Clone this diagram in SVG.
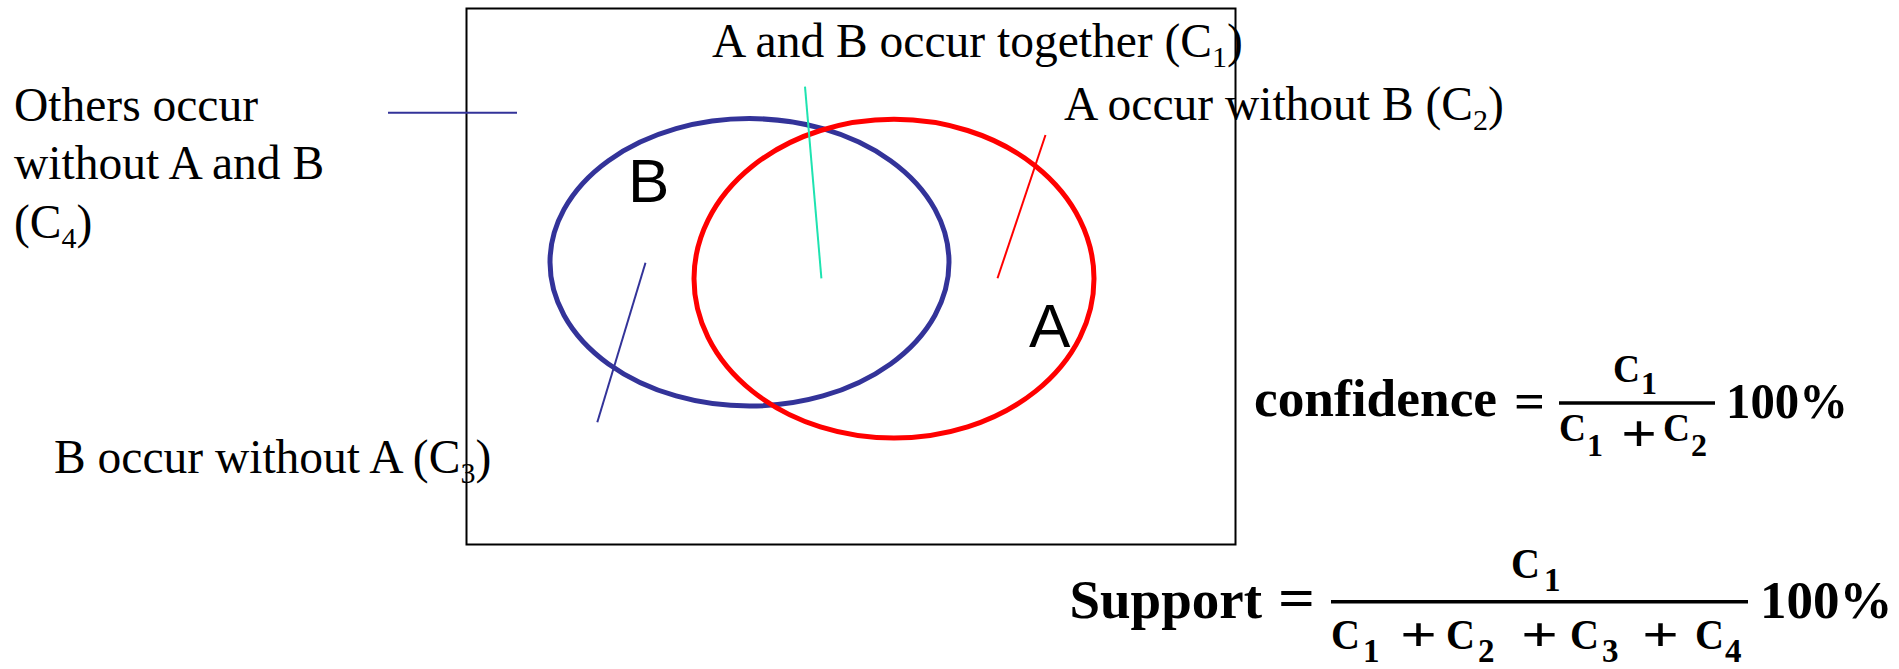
<svg xmlns="http://www.w3.org/2000/svg" width="1899" height="669" viewBox="0 0 1899 669">
<style>
.lbl{font-family:"Liberation Serif","Times New Roman",serif;font-size:47.5px;fill:#000}
.sub{font-size:30px}
.big{font-family:"Liberation Sans",Arial,sans-serif;font-size:62px;fill:#000}
.fb{font-family:"Liberation Serif","Times New Roman",serif;font-weight:bold;fill:#000}
.conn{fill:none;stroke-width:2}
</style>
<rect width="1899" height="669" fill="#fff"/>
<g id="frame"><rect x="466.5" y="8.5" width="769" height="536" fill="none" stroke="#000" stroke-width="2"/></g>
<g id="setB"><ellipse cx="749.5" cy="262.3" rx="199.5" ry="143.7" fill="none" stroke="#333399" stroke-width="5"/><text class="big" x="628" y="202">B</text></g>
<g id="setA"><ellipse cx="894" cy="278.7" rx="200" ry="159.4" fill="none" stroke="#ff0000" stroke-width="5"/><text class="big" x="1029" y="347">A</text></g>
<g id="connectors">
<line class="conn" x1="388" y1="112.7" x2="517" y2="112.7" stroke="#333399"/>
<line class="conn" x1="805" y1="86.7" x2="821.4" y2="278.3" stroke="#1ee3b0"/>
<line class="conn" x1="1045.5" y1="135" x2="997.5" y2="278.3" stroke="#ff0000"/>
<line class="conn" x1="645.5" y1="262.7" x2="597.3" y2="422.3" stroke="#333399"/>
</g>
<g id="c4">
<text class="lbl" x="14" y="120.7">Others occur</text>
<text class="lbl" x="14" y="179">without A and B</text>
<text class="lbl" x="14" y="237.5">(C<tspan class="sub" dy="10">4</tspan><tspan dy="-10">)</tspan></text>
</g>
<g id="c1"><text class="lbl" x="712" y="56.7">A and B occur together (C<tspan class="sub" dy="10">1</tspan><tspan dy="-10">)</tspan></text></g>
<g id="c2"><text class="lbl" x="1064" y="120">A occur without B (C<tspan class="sub" dy="10">2</tspan><tspan dy="-10">)</tspan></text></g>
<g id="c3"><text class="lbl" x="54" y="472.7">B occur without A (C<tspan class="sub" dy="10">3</tspan><tspan dy="-10">)</tspan></text></g>
<g id="confidence">
<text class="fb" x="1254" y="416" font-size="53" textLength="243" lengthAdjust="spacingAndGlyphs">confidence</text>
<text class="fb" x="1514" y="418" font-size="50" textLength="31" lengthAdjust="spacingAndGlyphs">=</text>
<line x1="1559" y1="403" x2="1715" y2="403" stroke="#000" stroke-width="3.5"/>
<text class="fb" x="1613" y="382" font-size="40" textLength="27" lengthAdjust="spacingAndGlyphs">C</text><text class="fb" x="1641" y="394" font-size="32">1</text>
<text class="fb" x="1559" y="441" font-size="40" textLength="27" lengthAdjust="spacingAndGlyphs">C</text><text class="fb" x="1587" y="456" font-size="32">1</text>
<text class="fb" x="1621" y="451" font-size="52" textLength="36" lengthAdjust="spacingAndGlyphs">+</text>
<text class="fb" x="1663" y="441" font-size="40" textLength="27" lengthAdjust="spacingAndGlyphs">C</text><text class="fb" x="1691" y="456" font-size="32">2</text>
<text class="fb" x="1726" y="418" font-size="50" textLength="122" lengthAdjust="spacingAndGlyphs">100%</text>
</g>
<g id="support">
<text class="fb" x="1262" y="618" font-size="55" text-anchor="end">Support</text>
<text class="fb" x="1278" y="617" font-size="56" textLength="37" lengthAdjust="spacingAndGlyphs">=</text>
<line x1="1331" y1="601.7" x2="1748" y2="601.7" stroke="#000" stroke-width="3.5"/>
<text class="fb" x="1511" y="578" font-size="42" textLength="29" lengthAdjust="spacingAndGlyphs">C</text><text class="fb" x="1544" y="591" font-size="33">1</text>
<text class="fb" x="1331" y="649" font-size="42" textLength="29" lengthAdjust="spacingAndGlyphs">C</text><text class="fb" x="1363" y="662" font-size="33">1</text>
<text class="fb" x="1400" y="651" font-size="48" textLength="37" lengthAdjust="spacingAndGlyphs">+</text>
<text class="fb" x="1446" y="649" font-size="42" textLength="29" lengthAdjust="spacingAndGlyphs">C</text><text class="fb" x="1478" y="662" font-size="33">2</text>
<text class="fb" x="1521" y="651" font-size="48" textLength="37" lengthAdjust="spacingAndGlyphs">+</text>
<text class="fb" x="1570" y="649" font-size="42" textLength="29" lengthAdjust="spacingAndGlyphs">C</text><text class="fb" x="1602" y="662" font-size="33">3</text>
<text class="fb" x="1642" y="651" font-size="48" textLength="37" lengthAdjust="spacingAndGlyphs">+</text>
<text class="fb" x="1695" y="649" font-size="42" textLength="29" lengthAdjust="spacingAndGlyphs">C</text><text class="fb" x="1725" y="662" font-size="33">4</text>
<text class="fb" x="1760" y="618" font-size="53">100%</text>
</g>
</svg>
